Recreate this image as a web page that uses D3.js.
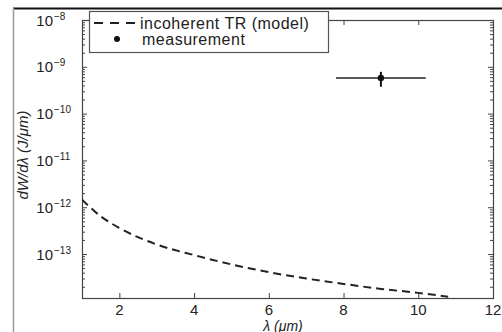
<!DOCTYPE html>
<html>
<head>
<meta charset="utf-8">
<script src="https://cdn.jsdelivr.net/npm/d3@7"></script>
<style>
  body { margin: 0; background: #fff; }
  svg { display: block; font-family: "Liberation Sans", Arial, sans-serif; }
</style>
</head>
<body>
<div id="chart"></div>
<script>
// Data
var lambdaModel = [1, 1.5, 2, 3, 4, 5, 6, 7, 8, 9, 10, 10.8];
var dWModel = [1.45e-12, 6.4e-13, 3.6e-13, 1.6e-13, 9.5e-14, 6.0e-14, 4.1e-14, 3.0e-14, 2.3e-14, 1.8e-14, 1.48e-14, 1.22e-14];

var measLambda = [9.0];
var measValue = [5.8e-10];
var measLambdaLo = [7.8];
var measLambdaHi = [10.2];
var measValueLo = [3.75e-10];
var measValueHi = [7.8e-10];

var xTicks = [2, 4, 6, 8, 10, 12];
var yExponents = [-8, -9, -10, -11, -12, -13];
var legendText = ["incoherent TR (model)", "measurement"];

var w = 502, h = 332;
var plotLeft = 82, plotRight = 493, plotTop = 20, plotBottom = 298;

var svg = d3.select("#chart").append("svg")
    .attr("width", w)
    .attr("height", h);

var x = d3.scaleLinear().domain([1, 12]).range([plotLeft, plotRight]);
var y = d3.scaleLog().domain([1.15e-14, 1e-8]).range([plotBottom, plotTop]);

// outer frame bits
svg.append("line")
    .attr("x1", 13).attr("x2", w).attr("y1", 8.5).attr("y2", 8.5)
    .style("stroke", "#111").style("stroke-width", 2);
svg.append("line")
    .attr("x1", 13.5).attr("x2", 13.5).attr("y1", 8).attr("y2", h)
    .style("stroke", "#999").style("stroke-width", 1.5);

// ticks
var majors = yExponents.map(function (e) { return Math.pow(10, e); });
var minors = [];
for (var e = -14; e < -8; e++) {
    for (var k = 2; k <= 9; k++) {
        var v = k * Math.pow(10, e);
        if (v >= 1.15e-14 && v <= 1e-8) minors.push(v);
    }
}

var axisColor = "#444";

function styleAxis(g) {
    g.select(".domain").remove();
    g.selectAll("line").style("stroke", axisColor).style("stroke-width", 1);
    g.selectAll("text").remove();
}

svg.append("g").attr("transform", "translate(" + plotLeft + ",0)")
    .call(d3.axisLeft(y).tickValues(majors).tickSize(-5)).call(styleAxis);
svg.append("g").attr("transform", "translate(" + plotLeft + ",0)")
    .call(d3.axisLeft(y).tickValues(minors).tickSize(-3)).call(styleAxis);
svg.append("g").attr("transform", "translate(" + plotRight + ",0)")
    .call(d3.axisRight(y).tickValues(majors).tickSize(-5)).call(styleAxis);
svg.append("g").attr("transform", "translate(" + plotRight + ",0)")
    .call(d3.axisRight(y).tickValues(minors).tickSize(-3)).call(styleAxis);
svg.append("g").attr("transform", "translate(0," + plotBottom + ")")
    .call(d3.axisBottom(x).tickValues(xTicks).tickSize(-5)).call(styleAxis);
svg.append("g").attr("transform", "translate(0," + plotTop + ")")
    .call(d3.axisTop(x).tickValues(xTicks).tickSize(-5)).call(styleAxis);

// plot box
svg.append("rect")
    .attr("x", plotLeft + 0.5).attr("y", plotTop + 0.5)
    .attr("width", plotRight - plotLeft).attr("height", plotBottom - plotTop)
    .style("fill", "none").style("stroke", axisColor).style("stroke-width", 1.2);

// y tick labels
var yl = svg.append("g").selectAll("text")
    .data(yExponents)
    .enter()
    .append("text")
    .attr("y", function (d) { return y(Math.pow(10, d)) + 5.5; })
    .style("font-size", "15px")
    .style("fill", "#222");
yl.append("tspan").attr("x", 53).attr("text-anchor", "end").text("10");
yl.append("tspan").attr("x", 54).attr("dy", -6).style("font-size", "10px")
    .text(function (d) { return "\u2212" + Math.abs(d); });

// x tick labels
svg.append("g").selectAll("text")
    .data(xTicks)
    .enter()
    .append("text")
    .attr("x", function (d) { return x(d); })
    .attr("y", 315)
    .attr("text-anchor", "middle")
    .style("font-size", "15px")
    .style("fill", "#222")
    .text(function (d) { return d; });

// axis labels
svg.append("text")
    .attr("x", 283).attr("y", 330.5)
    .attr("text-anchor", "middle")
    .style("font-size", "14px").style("font-style", "italic").style("fill", "#222")
    .text("\u03bb (\u03bcm)");
svg.append("text")
    .attr("transform", "translate(28,155) rotate(-90)")
    .attr("text-anchor", "middle")
    .style("font-size", "15px").style("font-style", "italic").style("fill", "#222")
    .text("dW/d\u03bb (J/\u03bcm)");

// model curve
svg.append("clipPath").attr("id", "clip")
    .append("rect").attr("x", plotLeft).attr("y", plotTop)
    .attr("width", plotRight - plotLeft).attr("height", plotBottom - plotTop);

var line = d3.line()
    .x(function (d) { return x(d[0]); })
    .y(function (d) { return y(d[1]); })
    .curve(d3.curveMonotoneX);

svg.append("path")
    .datum(d3.zip(lambdaModel, dWModel))
    .attr("clip-path", "url(#clip)")
    .attr("d", line)
    .style("fill", "none")
    .style("stroke", "#222")
    .style("stroke-width", 2)
    .style("stroke-dasharray", "8,5");

// measurement with error bars
var meas = svg.append("g").selectAll("g")
    .data(measLambda)
    .enter()
    .append("g");
meas.append("line")
    .attr("x1", function (d, i) { return x(measLambdaLo[i]); })
    .attr("x2", function (d, i) { return x(measLambdaHi[i]); })
    .attr("y1", function (d, i) { return y(measValue[i]); })
    .attr("y2", function (d, i) { return y(measValue[i]); })
    .style("stroke", "#222").style("stroke-width", 1.5);
meas.append("line")
    .attr("x1", function (d) { return x(d); })
    .attr("x2", function (d) { return x(d); })
    .attr("y1", function (d, i) { return y(measValueLo[i]); })
    .attr("y2", function (d, i) { return y(measValueHi[i]); })
    .style("stroke", "#111").style("stroke-width", 2);
meas.append("circle")
    .attr("cx", function (d) { return x(d); })
    .attr("cy", function (d, i) { return y(measValue[i]); })
    .attr("r", 3.2)
    .style("fill", "#111");

// legend
var legend = svg.append("g");
legend.append("rect")
    .attr("x", 89.5).attr("y", 11.5)
    .attr("width", 239).attr("height", 41)
    .style("fill", "#fff").style("stroke", "#555").style("stroke-width", 1.2);
legend.append("line")
    .attr("x1", 94).attr("x2", 138).attr("y1", 23).attr("y2", 23)
    .style("stroke", "#222").style("stroke-width", 2)
    .style("stroke-dasharray", "9,7");
legend.append("circle")
    .attr("cx", 117).attr("cy", 39).attr("r", 3)
    .style("fill", "#111");
legend.selectAll("text")
    .data(legendText)
    .enter()
    .append("text")
    .attr("x", function (d, i) { return i === 0 ? 140 : 142; })
    .attr("y", function (d, i) { return 28.5 + i * 16; })
    .style("font-size", "16px")
    .style("letter-spacing", "0.5px")
    .style("fill", "#222")
    .text(function (d) { return d; });
</script>
</body>
</html>
